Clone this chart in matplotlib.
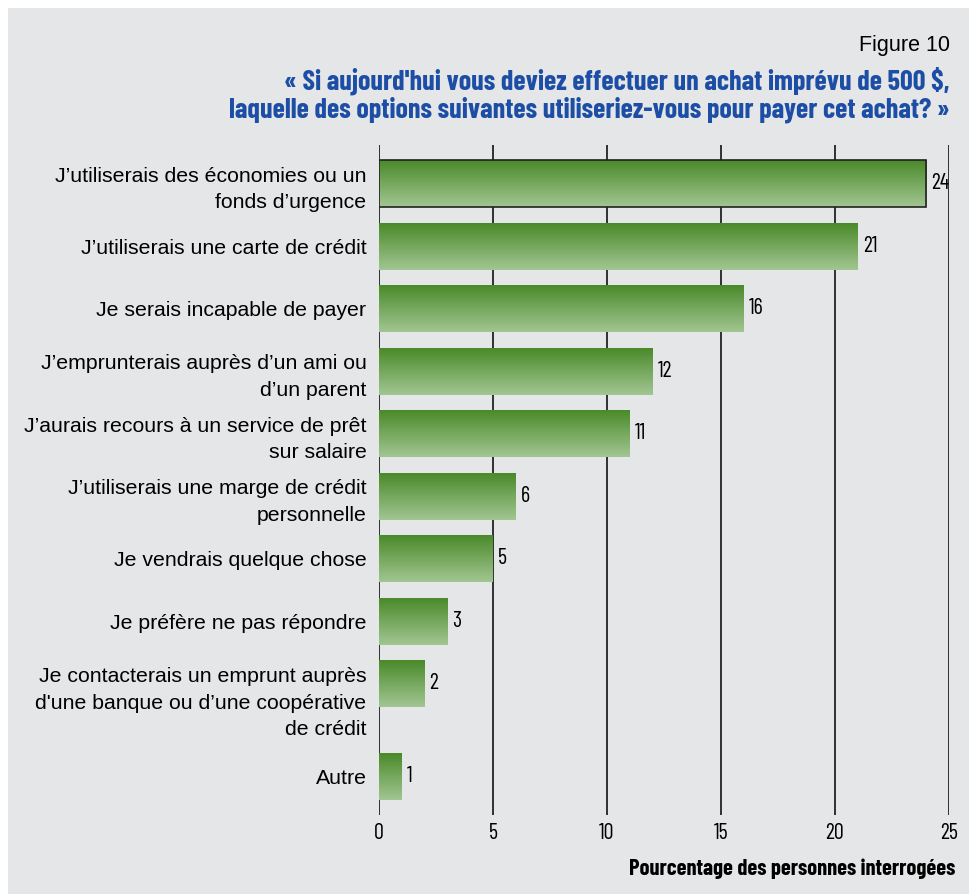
import numpy as np
import matplotlib
matplotlib.use('Agg')
import matplotlib.pyplot as plt
from matplotlib.patches import Rectangle
from matplotlib.colors import LinearSegmentedColormap
from matplotlib.transforms import ScaledTranslation

# données
categories = [
    "J\u2019utiliserais des économies ou un\nfonds d\u2019urgence",
    "J\u2019utiliserais une carte de crédit",
    "Je serais incapable de payer",
    "J\u2019emprunterais auprès d\u2019un ami ou\nd\u2019un parent",
    "J\u2019aurais recours à un service de prêt\nsur salaire",
    "J\u2019utiliserais une marge de crédit\npersonnelle",
    "Je vendrais quelque chose",
    "Je préfère ne pas répondre",
    "Je contacterais un emprunt auprès\nd'une banque ou d\u2019une coopérative\nde crédit",
    "Autre",
]
values = [24, 21, 16, 12, 11, 6, 5, 3, 2, 1]
xticks = [0, 5, 10, 15, 20, 25]

# position des barres (écart plus grand avant "Autre")
ypos = [0, 1, 2, 3, 4, 5, 6, 7, 8, 9.48]

BG = '#e5e6e8'
BLUE = '#1d4ea6'
NARROW = ['Barlow Condensed', 'DejaVu Sans']
REG = ['Liberation Sans', 'DejaVu Sans']

fig = plt.figure(figsize=[9.69, 8.94], dpi=100)
fig.patch.set_facecolor('white')
fig.patches.append(Rectangle((8 / 969., 0), 1, 1 - 8 / 894., transform=fig.transFigure,
                             facecolor=BG, edgecolor='none', zorder=-10))

ax = fig.add_axes([379 / 969., 79 / 894., 570 / 969., 670 / 894.])
ax.set_facecolor('none')

h = 0.75
grad = np.linspace(0, 1, 100).reshape(-1, 1)
cmap = LinearSegmentedColormap.from_list('g', ['#4a8a2a', '#a2c692'])

bars = ax.barh(ypos, values, height=h, color='none', edgecolor='none', zorder=3)
for i, (b, v, y) in enumerate(zip(bars, values, ypos)):
    im = ax.imshow(grad, cmap=cmap, aspect='auto', extent=[0, v, y + h / 2, y - h / 2],
                   origin='upper', zorder=2)
    im.set_clip_path(b)
    if i == 0:
        b.set_edgecolor('#222222')
        b.set_linewidth(1.2)
    ax.text(v + 0.22, y, str(v), va='center', ha='left', fontsize=16, family=NARROW)

ax.set_xlim(0, 25)
ax.set_ylim(9.48 + 0.62, -0.62)

for t in xticks:
    ax.axvline(t, color='#222222', lw=1.3, zorder=1)

ax.set_xticks(xticks)
ax.set_xticklabels([str(t) for t in xticks], family=NARROW, fontsize=16)
ax.tick_params(axis='x', length=0, pad=6)
ax.set_yticks(ypos)
ax.set_yticklabels(categories, family=REG, fontsize=15.3, linespacing=1.5)
ax.tick_params(axis='y', length=0, pad=9)
for s in ax.spines.values():
    s.set_visible(False)

# l'étiquette sur trois lignes descend un peu sous le centre de la barre
lab = ax.get_yticklabels()[8]
lab.set_transform(lab.get_transform() + ScaledTranslation(0, -10 / 72., fig.dpi_scale_trans))

fig.text(955 / 969., 1 - 869 / 894., 'Pourcentage des personnes interrogées', ha='right', va='center',
         fontsize=16.2, fontweight='bold', family=NARROW)
fig.text(950 / 969., 1 - 45 / 894., 'Figure 10', ha='right', va='center', fontsize=15.5, family=REG)
fig.text(950 / 969., 1 - 95 / 894.,
         "« Si aujourd'hui vous deviez effectuer un achat imprévu de 500 $,\n"
         "laquelle des options suivantes utiliseriez-vous pour payer cet achat? »",
         ha='right', va='center', fontsize=20.2, fontweight='bold', color=BLUE, family=NARROW,
         linespacing=1.08)

plt.savefig('out.png', dpi=100, facecolor=fig.get_facecolor())
